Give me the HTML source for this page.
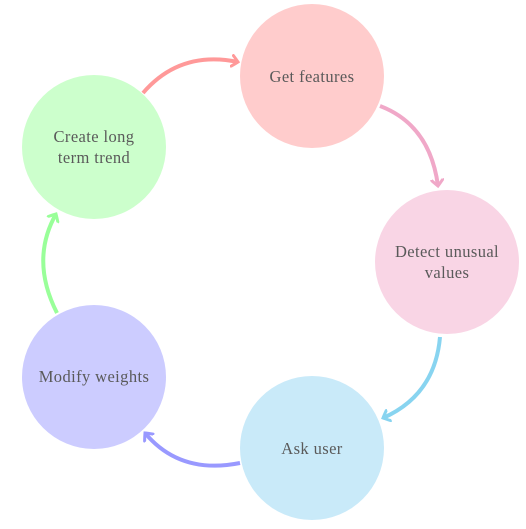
<!DOCTYPE html>
<html><head><meta charset="utf-8"><style>
html,body{margin:0;padding:0;background:#fff;}
svg{display:block;}
text{font-family:"Liberation Serif",serif;font-size:16.5px;letter-spacing:0.4px;fill:#5a5a5a;text-anchor:middle;}
</style></head><body>
<svg width="526" height="529" viewBox="0 0 526 529" xmlns="http://www.w3.org/2000/svg">
<defs>
<marker id="mr" markerWidth="14" markerHeight="14" refX="7" refY="7" orient="auto" markerUnits="userSpaceOnUse"><path d="M1,1.5 Q5,5 7,7 Q5,9 1,12.5" fill="none" stroke="#ff9999" stroke-width="3" stroke-linecap="round"/></marker>
<marker id="mp" markerWidth="14" markerHeight="14" refX="7" refY="7" orient="auto" markerUnits="userSpaceOnUse"><path d="M1,1.5 Q5,5 7,7 Q5,9 1,12.5" fill="none" stroke="#f0a8c8" stroke-width="3" stroke-linecap="round"/></marker>
<marker id="mb" markerWidth="14" markerHeight="14" refX="7" refY="7" orient="auto" markerUnits="userSpaceOnUse"><path d="M1,1.5 Q5,5 7,7 Q5,9 1,12.5" fill="none" stroke="#88d4f0" stroke-width="3" stroke-linecap="round"/></marker>
<marker id="mv" markerWidth="14" markerHeight="14" refX="7" refY="7" orient="auto" markerUnits="userSpaceOnUse"><path d="M1,1.5 Q5,5 7,7 Q5,9 1,12.5" fill="none" stroke="#9999ff" stroke-width="3" stroke-linecap="round"/></marker>
<marker id="mg" markerWidth="14" markerHeight="14" refX="7" refY="7" orient="auto" markerUnits="userSpaceOnUse"><path d="M1,1.5 Q5,5 7,7 Q5,9 1,12.5" fill="none" stroke="#99ff99" stroke-width="3" stroke-linecap="round"/></marker>
</defs>
<circle cx="312" cy="76" r="72" fill="#ffcccc"/>
<circle cx="447" cy="262" r="72" fill="#f9d5e5"/>
<circle cx="312" cy="448" r="72" fill="#c9eaf9"/>
<circle cx="94" cy="377" r="72" fill="#ccccff"/>
<circle cx="94" cy="147" r="72" fill="#ccffcc"/>
<g fill="none" stroke-width="4">
<path d="M143,93 Q180,50 238,62" stroke="#ff9999" marker-end="url(#mr)"/>
<path d="M380,106 Q430,125 438,186" stroke="#f0a8c8" marker-end="url(#mp)"/>
<path d="M440,337 Q435,395 383,418" stroke="#88d4f0" marker-end="url(#mb)"/>
<path d="M240,463 Q180,475 145,433" stroke="#9999ff" marker-end="url(#mv)"/>
<path d="M57,313 Q30,260 56,214" stroke="#99ff99" marker-end="url(#mg)"/>
</g>
<text x="312" y="82">Get features</text>
<text x="447" y="257">Detect unusual</text>
<text x="447" y="278">values</text>
<text x="312" y="454">Ask user</text>
<text x="94" y="382">Modify weights</text>
<text x="94" y="142">Create long</text>
<text x="94" y="163">term trend</text>
</svg>
</body></html>
